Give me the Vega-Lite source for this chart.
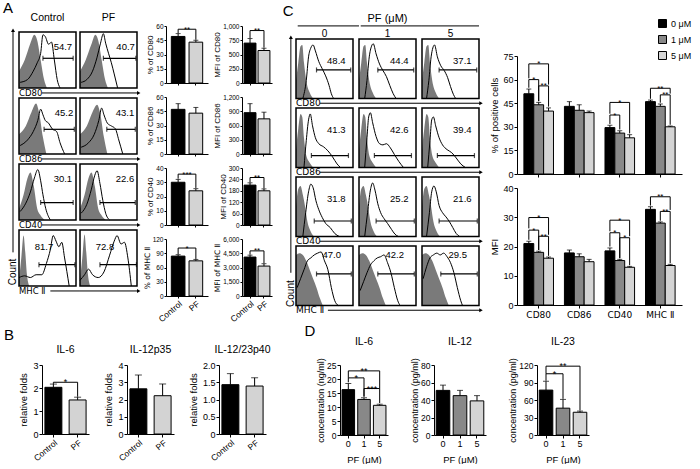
{
"$schema":"https://vega.github.io/schema/vega-lite/v6.json",
"padding":{"left":2,"top":1,"right":0,"bottom":0},
"config":{"font":"Liberation Sans","view":{"stroke":null},
"axis":{"grid":false,"domainColor":"#000","domainWidth":1,"tickColor":"#000","tickWidth":1,"tickSize":3,"labelColor":"#000","labelFontSize":8,"labelPadding":1,"titleColor":"#000","titleFontSize":9,"titleFontWeight":"normal","titlePadding":3},
"title":{"color":"#000","fontWeight":"normal","fontSize":10.5},
"legend":{"labelColor":"#000"},
"text":{"color":"#000"}},
"resolve":{"scale":{"color":"independent"}},
"columns":1,"align":"none","spacing":0,
"concat":[
{"resolve":{"scale":{"color":"independent"}},"spacing":0,"hconcat":[
 {"width":1,"height":1,"data":{"values":[]},"mark":"point"},
 {"resolve":{"scale":{"color":"independent"}},"spacing":10,"hconcat":[
 {"title":{"text":"A","anchor":"start","frame":"bounds","fontSize":15,"offset":-4,"dx":-5},"spacing":2,"hconcat":[
  {"spacing":0,"vconcat":[
   {"width":1,"height":1,"data":{"values":[]},"mark":"point"},
   {"data":{"values":[
{"m":"CD80","c":"Control","k":"i","x":[0,10,20,27,32,38,44,49],"y":[0.3,0.5,0.8,0.95,0.85,0.5,0.15,0]},
{"m":"CD80","c":"Control","k":"p","x":[2,15,25,32,38,42,46,52,57,62,67,72],"y":[0.1,0.15,0.3,0.45,0.62,0.95,0.92,0.78,0.82,0.5,0.15,0]},
{"m":"CD80","c":"PF","k":"i","x":[0,10,20,27,32,38,44,49],"y":[0.3,0.5,0.78,0.95,0.85,0.5,0.15,0]},
{"m":"CD80","c":"PF","k":"p","x":[2,12,22,30,36,41,45,50,55,60,66],"y":[0.1,0.15,0.3,0.55,0.8,0.97,0.8,0.62,0.45,0.25,0]},
{"m":"CD86","c":"Control","k":"i","x":[0,12,22,30,35,42,48],"y":[0.35,0.5,0.75,0.9,0.75,0.3,0]},
{"m":"CD86","c":"Control","k":"p","x":[2,15,25,33,38,42,46,52,58,66,72,80],"y":[0.15,0.25,0.4,0.6,0.8,0.7,0.6,0.55,0.45,0.4,0.2,0]},
{"m":"CD86","c":"PF","k":"i","x":[0,12,22,30,35,42,48],"y":[0.35,0.5,0.75,0.88,0.75,0.3,0]},
{"m":"CD86","c":"PF","k":"p","x":[2,15,25,33,38,42,48,55,62,68,75],"y":[0.12,0.2,0.35,0.6,0.82,0.7,0.55,0.5,0.45,0.25,0]},
{"m":"CD40","c":"Control","k":"i","x":[0,8,15,20,26,32,38,45],"y":[0.2,0.45,0.75,0.85,0.6,0.2,0.08,0]},
{"m":"CD40","c":"Control","k":"p","x":[2,12,20,27,33,38,42,47,55],"y":[0.15,0.3,0.5,0.75,0.9,0.7,0.45,0.2,0]},
{"m":"CD40","c":"PF","k":"i","x":[0,8,15,20,26,32,38,45],"y":[0.2,0.45,0.75,0.85,0.6,0.2,0.08,0]},
{"m":"CD40","c":"PF","k":"p","x":[2,12,20,26,30,35,40,45,52],"y":[0.12,0.28,0.55,0.8,0.88,0.65,0.35,0.12,0]},
{"m":"MHC Ⅱ","c":"Control","k":"i","x":[0,4,8,11,14,18],"y":[0.1,0.5,0.9,0.6,0.2,0]},
{"m":"MHC Ⅱ","c":"Control","k":"p","x":[0,10,20,30,40,48,55,60,65,70,75,80,88],"y":[0.15,0.18,0.15,0.2,0.2,0.4,0.65,0.9,0.8,0.7,0.78,0.5,0]},
{"m":"MHC Ⅱ","c":"PF","k":"i","x":[0,4,8,11,14,18],"y":[0.1,0.5,0.92,0.6,0.2,0]},
{"m":"MHC Ⅱ","c":"PF","k":"p","x":[0,8,15,22,32,42,52,60,65,72,78,84,90],"y":[0.1,0.2,0.3,0.2,0.15,0.25,0.55,0.8,0.9,0.75,0.78,0.5,0]},
{"m":"CD80","c":"Control","k":"g","lo":42,"hi":95,"lvl":0.53,"pct":54.7},
{"m":"CD80","c":"PF","k":"g","lo":41,"hi":98,"lvl":0.53,"pct":40.7},
{"m":"CD86","c":"Control","k":"g","lo":44,"hi":97,"lvl":0.44,"pct":45.2},
{"m":"CD86","c":"PF","k":"g","lo":47,"hi":97,"lvl":0.44,"pct":43.1},
{"m":"CD40","c":"Control","k":"g","lo":38,"hi":95,"lvl":0.31,"pct":30.1},
{"m":"CD40","c":"PF","k":"g","lo":35,"hi":97,"lvl":0.31,"pct":22.6},
{"m":"MHC Ⅱ","c":"Control","k":"g","lo":35,"hi":98,"lvl":0.38,"pct":81.7},
{"m":"MHC Ⅱ","c":"PF","k":"g","lo":35,"hi":99,"lvl":0.38,"pct":72.8}
   ]},
   "facet":{"row":{"field":"m","type":"nominal","sort":["CD80","CD86","CD40","MHC Ⅱ"],"header":{"labels":false,"title":null}},
            "column":{"field":"c","type":"nominal","sort":["Control","PF"],"header":{"labels":false,"title":null}}},
   "bounds":"flush",
   "spacing":{"row":0,"column":4},
   "spec":{"width":57,"height":66,"layer":[
    {"transform":[{"filter":"datum.k==='i'"},{"flatten":["x","y"]}],"mark":{"type":"area","color":"#7a7a7a","interpolate":"monotone"},"encoding":{"x":{"field":"x","type":"quantitative","scale":{"domain":[0,100],"nice":false,"zero":false},"axis":null},"y":{"field":"y","type":"quantitative","scale":{"domain":[-0.18,1],"nice":false,"zero":false},"axis":null},"y2":{"datum":0}}},
    {"transform":[{"filter":"datum.k==='p'"},{"flatten":["x","y"]}],"mark":{"type":"line","color":"#000","strokeWidth":1,"interpolate":"monotone"},"encoding":{"x":{"field":"x","type":"quantitative","axis":null},"y":{"field":"y","type":"quantitative","axis":null}}},
    {"transform":[{"filter":"datum.k==='g'"}],"mark":{"type":"rule","color":"#000","strokeWidth":1.2},"encoding":{"x":{"field":"lo","type":"quantitative","axis":null},"x2":{"field":"hi"},"y":{"field":"lvl","type":"quantitative","axis":null}}},
    {"transform":[{"filter":"datum.k==='g'"},{"fold":["lo","hi"],"as":["gk","gv"]}],"mark":{"type":"tick","orient":"vertical","color":"#000","size":5,"thickness":1.2},"encoding":{"x":{"field":"gv","type":"quantitative","axis":null},"y":{"field":"lvl","type":"quantitative","axis":null}}},
    {"transform":[{"filter":"datum.k==='g' && datum.m!=='MHC Ⅱ'"}],"mark":{"type":"text","align":"right","baseline":"middle","fontSize":9.5,"dx":-1},"encoding":{"x":{"field":"hi","type":"quantitative","axis":null},"y":{"datum":0.73,"axis":null},"text":{"field":"pct","type":"quantitative","format":".1f"}}},
    {"transform":[{"filter":"datum.k==='g' && datum.m==='MHC Ⅱ'"}],"mark":{"type":"text","align":"right","baseline":"middle","fontSize":9.5},"encoding":{"x":{"datum":60,"axis":null},"y":{"datum":0.7,"axis":null},"text":{"field":"pct","type":"quantitative","format":".1f"}}},
    {"transform":[{"filter":"datum.k==='g' && datum.m==='CD80'"}],"mark":{"type":"text","align":"center","baseline":"middle","fontSize":10.5},"encoding":{"x":{"datum":50,"axis":null},"y":{"datum":1.25,"axis":null},"text":{"field":"c","type":"nominal"}}},
    {"transform":[{"filter":"datum.k==='g' && datum.c==='Control'"}],"mark":{"type":"text","align":"left","baseline":"middle","fontSize":8.5,"font":"DejaVu Sans"},"encoding":{"x":{"datum":0,"axis":null},"y":{"datum":-0.09,"axis":null},"text":{"field":"m","type":"nominal"}}},
    {"transform":[{"filter":"datum.k==='g' && datum.c==='Control' && datum.m!=='MHC Ⅱ'"}],"mark":{"type":"rule","color":"#000"},"encoding":{"x":{"datum":40,"axis":null},"x2":{"datum":107},"y":{"datum":-0.09,"axis":null}}},
    {"transform":[{"filter":"datum.k==='g' && datum.c==='Control' && datum.m==='MHC Ⅱ'"}],"mark":{"type":"rule","color":"#000"},"encoding":{"x":{"datum":55,"axis":null},"x2":{"datum":107},"y":{"datum":-0.09,"axis":null}}},
    {"transform":[{"filter":"datum.k==='g' && datum.c==='PF'"}],"mark":{"type":"rule","color":"#000"},"encoding":{"x":{"datum":0,"axis":null},"x2":{"datum":102},"y":{"datum":-0.09,"axis":null}}},
    {"transform":[{"filter":"datum.k==='g' && datum.c==='PF'"}],"mark":{"type":"point","shape":"triangle-right","filled":true,"color":"#000","size":16,"opacity":1},"encoding":{"x":{"datum":103,"axis":null},"y":{"datum":-0.09,"axis":null}}},
    {"transform":[{"filter":"datum.k==='g' && datum.c==='Control' && datum.m!=='MHC Ⅱ'"}],"mark":{"type":"rule","color":"#000"},"encoding":{"x":{"datum":-10.5,"axis":null},"y":{"datum":-0.18,"axis":null},"y2":{"datum":1}}},
    {"transform":[{"filter":"datum.k==='g' && datum.c==='Control' && datum.m==='MHC Ⅱ'"}],"mark":{"type":"rule","color":"#000"},"encoding":{"x":{"datum":-10.5,"axis":null},"y":{"datum":0.6,"axis":null},"y2":{"datum":1}}},
    {"transform":[{"filter":"datum.k==='g' && datum.c==='Control' && datum.m==='CD80'"}],"mark":{"type":"point","shape":"triangle-up","filled":true,"color":"#000","size":16,"opacity":1},"encoding":{"x":{"datum":-10.5,"axis":null},"y":{"datum":1.03,"axis":null}}},
    {"transform":[{"filter":"datum.k==='g' && datum.c==='Control' && datum.m==='MHC Ⅱ'"}],"mark":{"type":"text","angle":270,"align":"center","baseline":"middle","fontSize":10},"encoding":{"x":{"datum":-10.5,"axis":null},"y":{"datum":0.25,"axis":null},"text":{"value":"Count"}}},
    {"transform":[{"filter":"datum.k==='g'"}],"mark":{"type":"rect","fillOpacity":0,"stroke":"#000","strokeWidth":1.5},"encoding":{"x":{"datum":0,"axis":null},"x2":{"datum":100},"y":{"datum":0,"axis":null},"y2":{"datum":1}}}
   ]}}
  ]},
  {"spacing":5,"hconcat":[
   {"spacing":7,"vconcat":[
    {"width":42,"height":3.5,"data":{"values":[]},"mark":"point"},
    {"width":42,"height":57,"encoding":{"x":{"field":"c","type":"nominal","title":null,"scale":{"domain":["Control","PF"],"paddingInner":0.23,"paddingOuter":0.3},"axis":{"labels":false,"tickSize":2}},"y":{"field":"v","type":"quantitative","title":"% of CD80","scale":{"domain":[0,60],"nice":false},"axis":{"values":[0,15,30,45,60],"labelFontSize":6.5,"titleFontSize":8,"tickSize":2,"titlePadding":1}}},
     "layer":[
      {"data":{"values":[{"c":"Control","v":49,"e":52},{"c":"PF","v":43,"e":45}]},"layer":[
       {"mark":{"type":"bar","stroke":"#000","strokeWidth":1},"encoding":{"fill":{"condition":{"test":"datum.c==='Control'","value":"#000"},"value":"#d3d3d3"}}},
       {"mark":{"type":"rule","color":"#000"},"encoding":{"y2":{"field":"e"}}},
       {"mark":{"type":"tick","orient":"horizontal","color":"#000","size":5,"thickness":1},"encoding":{"y":{"field":"e","type":"quantitative","title":"% of CD80"}}}]},
      {"data":{"values":[{"c":"Control","v":52.5,"o":1},{"c":"Control","v":56.6,"o":2},{"c":"PF","v":56.6,"o":3},{"c":"PF","v":45.5,"o":4}]},"mark":{"type":"line","color":"#000","strokeWidth":1},"encoding":{"order":{"field":"o","type":"quantitative"}}},
      {"data":{"values":[{"c":"Control","v":56.6,"s":"**"}]},"mark":{"type":"text","dx":8.9,"dy":2.5,"baseline":"alphabetic","fontSize":8},"encoding":{"text":{"field":"s","type":"nominal"}}}]},
    {"width":42,"height":57,"encoding":{"x":{"field":"c","type":"nominal","title":null,"scale":{"domain":["Control","PF"],"paddingInner":0.23,"paddingOuter":0.3},"axis":{"labels":false,"tickSize":2}},"y":{"field":"v","type":"quantitative","title":"% of CD86","scale":{"domain":[0,60],"nice":false},"axis":{"values":[0,15,30,45,60],"labelFontSize":6.5,"titleFontSize":8,"tickSize":2,"titlePadding":1}}},
     "layer":[
      {"data":{"values":[{"c":"Control","v":47,"e":53},{"c":"PF","v":43,"e":49}]},"layer":[
       {"mark":{"type":"bar","stroke":"#000","strokeWidth":1},"encoding":{"fill":{"condition":{"test":"datum.c==='Control'","value":"#000"},"value":"#d3d3d3"}}},
       {"mark":{"type":"rule","color":"#000"},"encoding":{"y2":{"field":"e"}}},
       {"mark":{"type":"tick","orient":"horizontal","color":"#000","size":5,"thickness":1},"encoding":{"y":{"field":"e","type":"quantitative","title":"% of CD86"}}}]}]},
    {"width":42,"height":57,"encoding":{"x":{"field":"c","type":"nominal","title":null,"scale":{"domain":["Control","PF"],"paddingInner":0.23,"paddingOuter":0.3},"axis":{"labels":false,"tickSize":2}},"y":{"field":"v","type":"quantitative","title":"% of CD40","scale":{"domain":[0,40],"nice":false},"axis":{"values":[0,10,20,30,40],"labelFontSize":6.5,"titleFontSize":8,"tickSize":2,"titlePadding":1}}},
     "layer":[
      {"data":{"values":[{"c":"Control","v":30,"e":32},{"c":"PF","v":24,"e":25.5}]},"layer":[
       {"mark":{"type":"bar","stroke":"#000","strokeWidth":1},"encoding":{"fill":{"condition":{"test":"datum.c==='Control'","value":"#000"},"value":"#d3d3d3"}}},
       {"mark":{"type":"rule","color":"#000"},"encoding":{"y2":{"field":"e"}}},
       {"mark":{"type":"tick","orient":"horizontal","color":"#000","size":5,"thickness":1},"encoding":{"y":{"field":"e","type":"quantitative","title":"% of CD40"}}}]},
      {"data":{"values":[{"c":"Control","v":32.5,"o":1},{"c":"Control","v":35.7,"o":2},{"c":"PF","v":35.7,"o":3},{"c":"PF","v":26,"o":4}]},"mark":{"type":"line","color":"#000","strokeWidth":1},"encoding":{"order":{"field":"o","type":"quantitative"}}},
      {"data":{"values":[{"c":"Control","v":35.7,"s":"***"}]},"mark":{"type":"text","dx":8.9,"dy":2.5,"baseline":"alphabetic","fontSize":8},"encoding":{"text":{"field":"s","type":"nominal"}}}]},
    {"width":42,"height":57,"encoding":{"x":{"field":"c","type":"nominal","title":null,"scale":{"domain":["Control","PF"],"paddingInner":0.23,"paddingOuter":0.3},"axis":{"labelAngle":-40,"labelFontSize":8.5,"tickSize":2}},"y":{"field":"v","type":"quantitative","title":"% of MHC Ⅱ","scale":{"domain":[0,120],"nice":false},"axis":{"values":[0,30,60,90,120],"labelFontSize":6.5,"titleFontSize":7.5,"titleFont":"DejaVu Sans","tickSize":2,"titlePadding":1}}},
     "layer":[
      {"data":{"values":[{"c":"Control","v":84,"e":87},{"c":"PF","v":74,"e":77}]},"layer":[
       {"mark":{"type":"bar","stroke":"#000","strokeWidth":1},"encoding":{"fill":{"condition":{"test":"datum.c==='Control'","value":"#000"},"value":"#d3d3d3"}}},
       {"mark":{"type":"rule","color":"#000"},"encoding":{"y2":{"field":"e"}}},
       {"mark":{"type":"tick","orient":"horizontal","color":"#000","size":5,"thickness":1},"encoding":{"y":{"field":"e","type":"quantitative","title":"% of MHC Ⅱ"}}}]},
      {"data":{"values":[{"c":"Control","v":88,"o":1},{"c":"Control","v":101,"o":2},{"c":"PF","v":101,"o":3},{"c":"PF","v":78,"o":4}]},"mark":{"type":"line","color":"#000","strokeWidth":1},"encoding":{"order":{"field":"o","type":"quantitative"}}},
      {"data":{"values":[{"c":"Control","v":101,"s":"*"}]},"mark":{"type":"text","dx":8.9,"dy":2.5,"baseline":"alphabetic","fontSize":8},"encoding":{"text":{"field":"s","type":"nominal"}}}]}
   ]},
   {"spacing":7,"vconcat":[
    {"width":30,"height":3.5,"data":{"values":[]},"mark":"point"},
    {"width":30,"height":57,"encoding":{"x":{"field":"c","type":"nominal","title":null,"scale":{"domain":["Control","PF"],"paddingInner":0.15,"paddingOuter":0.15},"axis":{"labels":false,"tickSize":2}},"y":{"field":"v","type":"quantitative","title":"MFI of CD80","scale":{"domain":[0,1000],"nice":false},"axis":{"values":[0,250,500,750,1000],"labelFontSize":6.5,"titleFontSize":8,"tickSize":2,"titlePadding":1}}},
     "layer":[
      {"data":{"values":[{"c":"Control","v":700,"e":780},{"c":"PF","v":570,"e":610}]},"layer":[
       {"mark":{"type":"bar","stroke":"#000","strokeWidth":1},"encoding":{"fill":{"condition":{"test":"datum.c==='Control'","value":"#000"},"value":"#d3d3d3"}}},
       {"mark":{"type":"rule","color":"#000"},"encoding":{"y2":{"field":"e"}}},
       {"mark":{"type":"tick","orient":"horizontal","color":"#000","size":5,"thickness":1},"encoding":{"y":{"field":"e","type":"quantitative","title":"MFI of CD80"}}}]},
      {"data":{"values":[{"c":"Control","v":790,"o":1},{"c":"Control","v":920,"o":2},{"c":"PF","v":920,"o":3},{"c":"PF","v":620,"o":4}]},"mark":{"type":"line","color":"#000","strokeWidth":1},"encoding":{"order":{"field":"o","type":"quantitative"}}},
      {"data":{"values":[{"c":"Control","v":920,"s":"**"}]},"mark":{"type":"text","dx":7,"dy":2.5,"baseline":"alphabetic","fontSize":8},"encoding":{"text":{"field":"s","type":"nominal"}}}]},
    {"width":30,"height":57,"encoding":{"x":{"field":"c","type":"nominal","title":null,"scale":{"domain":["Control","PF"],"paddingInner":0.15,"paddingOuter":0.15},"axis":{"labels":false,"tickSize":2}},"y":{"field":"v","type":"quantitative","title":"MFI of CD86","scale":{"domain":[0,1200],"nice":false},"axis":{"values":[0,300,600,900,1200],"labelFontSize":6.5,"titleFontSize":8,"tickSize":2,"titlePadding":1}}},
     "layer":[
      {"data":{"values":[{"c":"Control","v":870,"e":1060},{"c":"PF","v":740,"e":880}]},"layer":[
       {"mark":{"type":"bar","stroke":"#000","strokeWidth":1},"encoding":{"fill":{"condition":{"test":"datum.c==='Control'","value":"#000"},"value":"#d3d3d3"}}},
       {"mark":{"type":"rule","color":"#000"},"encoding":{"y2":{"field":"e"}}},
       {"mark":{"type":"tick","orient":"horizontal","color":"#000","size":5,"thickness":1},"encoding":{"y":{"field":"e","type":"quantitative","title":"MFI of CD86"}}}]}]},
    {"width":30,"height":57,"encoding":{"x":{"field":"c","type":"nominal","title":null,"scale":{"domain":["Control","PF"],"paddingInner":0.15,"paddingOuter":0.15},"axis":{"labels":false,"tickSize":2}},"y":{"field":"v","type":"quantitative","title":"MFI of CD40","scale":{"domain":[0,300],"nice":false},"axis":{"values":[0,60,120,180,240,300],"labelFontSize":6.5,"titleFontSize":8,"tickSize":2,"titlePadding":1}}},
     "layer":[
      {"data":{"values":[{"c":"Control","v":210,"e":222},{"c":"PF","v":180,"e":190}]},"layer":[
       {"mark":{"type":"bar","stroke":"#000","strokeWidth":1},"encoding":{"fill":{"condition":{"test":"datum.c==='Control'","value":"#000"},"value":"#d3d3d3"}}},
       {"mark":{"type":"rule","color":"#000"},"encoding":{"y2":{"field":"e"}}},
       {"mark":{"type":"tick","orient":"horizontal","color":"#000","size":5,"thickness":1},"encoding":{"y":{"field":"e","type":"quantitative","title":"MFI of CD40"}}}]},
      {"data":{"values":[{"c":"Control","v":224,"o":1},{"c":"Control","v":250,"o":2},{"c":"PF","v":250,"o":3},{"c":"PF","v":192,"o":4}]},"mark":{"type":"line","color":"#000","strokeWidth":1},"encoding":{"order":{"field":"o","type":"quantitative"}}},
      {"data":{"values":[{"c":"Control","v":250,"s":"**"}]},"mark":{"type":"text","dx":7,"dy":2.5,"baseline":"alphabetic","fontSize":8},"encoding":{"text":{"field":"s","type":"nominal"}}}]},
    {"width":30,"height":57,"encoding":{"x":{"field":"c","type":"nominal","title":null,"scale":{"domain":["Control","PF"],"paddingInner":0.15,"paddingOuter":0.15},"axis":{"labelAngle":-40,"labelFontSize":8.5,"tickSize":2}},"y":{"field":"v","type":"quantitative","title":"MFI of MHC Ⅱ","scale":{"domain":[0,6000],"nice":false},"axis":{"values":[0,1500,3000,4500,6000],"labelFontSize":6.5,"titleFontSize":7.5,"titleFont":"DejaVu Sans","tickSize":2,"titlePadding":1}}},
     "layer":[
      {"data":{"values":[{"c":"Control","v":4100,"e":4300},{"c":"PF","v":3150,"e":3400}]},"layer":[
       {"mark":{"type":"bar","stroke":"#000","strokeWidth":1},"encoding":{"fill":{"condition":{"test":"datum.c==='Control'","value":"#000"},"value":"#d3d3d3"}}},
       {"mark":{"type":"rule","color":"#000"},"encoding":{"y2":{"field":"e"}}},
       {"mark":{"type":"tick","orient":"horizontal","color":"#000","size":5,"thickness":1},"encoding":{"y":{"field":"e","type":"quantitative","title":"MFI of MHC Ⅱ"}}}]},
      {"data":{"values":[{"c":"Control","v":4350,"o":1},{"c":"Control","v":4750,"o":2},{"c":"PF","v":4750,"o":3},{"c":"PF","v":3450,"o":4}]},"mark":{"type":"line","color":"#000","strokeWidth":1},"encoding":{"order":{"field":"o","type":"quantitative"}}},
      {"data":{"values":[{"c":"Control","v":4750,"s":"**"}]},"mark":{"type":"text","dx":7,"dy":2.5,"baseline":"alphabetic","fontSize":8},"encoding":{"text":{"field":"s","type":"nominal"}}}]}
   ]}
  ]}
 ]},
 {"title":{"text":"C","anchor":"start","frame":"bounds","fontSize":15,"offset":-7,"dx":-3},"resolve":{"scale":{"color":"independent"}},"spacing":6,"hconcat":[
  {"spacing":0,"vconcat":[
   {"width":1,"height":1,"data":{"values":[]},"mark":"point"},
   {"data":{"values":[
{"m":"CD80","c":"0","k":"i","x":[0,4,8,11,14,18,24,30],"y":[0.3,0.6,0.88,0.9,0.6,0.3,0.1,0]},
{"m":"CD80","c":"1","k":"i","x":[0,4,8,11,14,18,24,30],"y":[0.3,0.6,0.88,0.9,0.6,0.3,0.1,0]},
{"m":"CD80","c":"5","k":"i","x":[0,4,8,11,14,18,24,30],"y":[0.3,0.6,0.88,0.9,0.6,0.3,0.1,0]},
{"m":"CD80","c":"0","k":"p","x":[12,18,22,26,30,34,40,46,52,58,62,66],"y":[0,0.3,0.7,0.85,0.9,0.8,0.62,0.5,0.38,0.22,0.08,0]},
{"m":"CD80","c":"1","k":"p","x":[10,14,18,22,25,30,36,42,48,54,60,65],"y":[0,0.3,0.7,0.88,0.92,0.75,0.58,0.47,0.37,0.22,0.08,0]},
{"m":"CD80","c":"5","k":"p","x":[8,12,16,19,22,27,33,39,45,50,55,59],"y":[0,0.3,0.7,0.85,0.9,0.7,0.55,0.47,0.35,0.2,0.07,0]},
{"m":"CD86","c":"0","k":"i","x":[0,4,8,11,14,18,24,30],"y":[0.3,0.65,0.9,0.85,0.5,0.2,0.08,0]},
{"m":"CD86","c":"1","k":"i","x":[0,4,8,11,14,18,24,30],"y":[0.3,0.65,0.9,0.85,0.5,0.2,0.08,0]},
{"m":"CD86","c":"5","k":"i","x":[0,4,8,11,14,18,24,30],"y":[0.3,0.65,0.9,0.85,0.5,0.2,0.08,0]},
{"m":"CD86","c":"0","k":"p","x":[14,18,22,25,29,34,40,48,56,64,72,78],"y":[0,0.45,0.8,0.9,0.7,0.5,0.4,0.35,0.28,0.18,0.06,0]},
{"m":"CD86","c":"1","k":"p","x":[10,14,17,20,24,30,36,42,48,55,62,70,78],"y":[0,0.5,0.85,0.92,0.75,0.52,0.4,0.38,0.4,0.33,0.22,0.1,0]},
{"m":"CD86","c":"5","k":"p","x":[10,14,17,20,24,30,36,44,52,60,68,76],"y":[0,0.45,0.8,0.85,0.7,0.5,0.38,0.3,0.25,0.16,0.06,0]},
{"m":"CD40","c":"0","k":"i","x":[0,4,8,12,16,20,26,32],"y":[0.5,0.8,0.85,0.7,0.5,0.25,0.08,0]},
{"m":"CD40","c":"1","k":"i","x":[0,4,8,12,16,20,26,32],"y":[0.5,0.8,0.85,0.7,0.5,0.25,0.08,0]},
{"m":"CD40","c":"5","k":"i","x":[0,4,8,12,16,20,26,32],"y":[0.5,0.8,0.85,0.7,0.5,0.25,0.08,0]},
{"m":"CD40","c":"0","k":"p","x":[12,17,22,26,30,35,40,46,52,60,68,76],"y":[0,0.4,0.75,0.88,0.82,0.6,0.45,0.32,0.22,0.15,0.05,0]},
{"m":"CD40","c":"1","k":"p","x":[10,15,20,24,28,33,38,44,50,57,63,69],"y":[0,0.4,0.78,0.9,0.78,0.55,0.4,0.3,0.22,0.12,0.04,0]},
{"m":"CD40","c":"5","k":"p","x":[8,13,17,21,25,30,36,42,48,54,60,66],"y":[0,0.4,0.75,0.85,0.75,0.52,0.4,0.33,0.25,0.15,0.05,0]},
{"m":"MHC Ⅱ","c":"0","k":"i","x":[0,6,12,18,24,30,36,42,47],"y":[0.85,0.88,0.85,0.75,0.6,0.45,0.3,0.12,0]},
{"m":"MHC Ⅱ","c":"1","k":"i","x":[0,6,12,18,24,30,36,42,47],"y":[0.85,0.88,0.85,0.75,0.6,0.45,0.3,0.12,0]},
{"m":"MHC Ⅱ","c":"5","k":"i","x":[0,6,12,18,24,30,36,42,47],"y":[0.85,0.88,0.85,0.75,0.6,0.45,0.3,0.12,0]},
{"m":"MHC Ⅱ","c":"0","k":"p","x":[2,8,14,20,26,32,38,44,50,56,62,68,74],"y":[0.3,0.45,0.6,0.75,0.8,0.85,0.88,0.9,0.75,0.6,0.3,0.08,0]},
{"m":"MHC Ⅱ","c":"1","k":"p","x":[2,8,14,20,26,32,38,44,50,56,62,68,72],"y":[0.25,0.4,0.55,0.68,0.75,0.8,0.82,0.85,0.72,0.55,0.3,0.08,0]},
{"m":"MHC Ⅱ","c":"5","k":"p","x":[2,8,14,20,26,32,38,44,50,56,62,68,71],"y":[0.45,0.65,0.8,0.85,0.88,0.85,0.88,0.82,0.72,0.55,0.3,0.08,0]},
{"m":"CD80","c":"0","k":"g","lo":36,"hi":96,"lvl":0.48,"pct":48.4},
{"m":"CD80","c":"1","k":"g","lo":33,"hi":96,"lvl":0.48,"pct":44.4},
{"m":"CD80","c":"5","k":"g","lo":30,"hi":96,"lvl":0.48,"pct":37.1},
{"m":"CD86","c":"0","k":"g","lo":27,"hi":92,"lvl":0.2,"pct":41.3},
{"m":"CD86","c":"1","k":"g","lo":27,"hi":92,"lvl":0.2,"pct":42.6},
{"m":"CD86","c":"5","k":"g","lo":27,"hi":92,"lvl":0.2,"pct":39.4},
{"m":"CD40","c":"0","k":"g","lo":32,"hi":97,"lvl":0.26,"pct":31.8},
{"m":"CD40","c":"1","k":"g","lo":30,"hi":97,"lvl":0.26,"pct":25.2},
{"m":"CD40","c":"5","k":"g","lo":30,"hi":97,"lvl":0.26,"pct":21.6},
{"m":"MHC Ⅱ","c":"0","k":"g","lo":36,"hi":97,"lvl":0.53,"pct":47.0},
{"m":"MHC Ⅱ","c":"1","k":"g","lo":33,"hi":97,"lvl":0.53,"pct":42.2},
{"m":"MHC Ⅱ","c":"5","k":"g","lo":33,"hi":97,"lvl":0.53,"pct":29.5}
   ]},
   "facet":{"row":{"field":"m","type":"nominal","sort":["CD80","CD86","CD40","MHC Ⅱ"],"header":{"labels":false,"title":null}},
            "column":{"field":"c","type":"nominal","sort":["0","1","5"],"header":{"labels":false,"title":null}}},
   "bounds":"flush",
   "spacing":{"row":0,"column":6},
   "spec":{"width":57,"height":69,"layer":[
    {"transform":[{"filter":"datum.k==='i'"},{"flatten":["x","y"]}],"mark":{"type":"area","color":"#7a7a7a","interpolate":"monotone"},"encoding":{"x":{"field":"x","type":"quantitative","scale":{"domain":[0,100],"nice":false,"zero":false},"axis":null},"y":{"field":"y","type":"quantitative","scale":{"domain":[-0.16,1],"nice":false,"zero":false},"axis":null},"y2":{"datum":0}}},
    {"transform":[{"filter":"datum.k==='p'"},{"flatten":["x","y"]}],"mark":{"type":"line","color":"#000","strokeWidth":1,"interpolate":"monotone"},"encoding":{"x":{"field":"x","type":"quantitative","axis":null},"y":{"field":"y","type":"quantitative","axis":null}}},
    {"transform":[{"filter":"datum.k==='g'"}],"mark":{"type":"rule","color":"#000","strokeWidth":1.2},"encoding":{"x":{"field":"lo","type":"quantitative","axis":null},"x2":{"field":"hi"},"y":{"field":"lvl","type":"quantitative","axis":null}}},
    {"transform":[{"filter":"datum.k==='g'"},{"fold":["lo","hi"],"as":["gk","gv"]}],"mark":{"type":"tick","orient":"vertical","color":"#000","size":5,"thickness":1.2},"encoding":{"x":{"field":"gv","type":"quantitative","axis":null},"y":{"field":"lvl","type":"quantitative","axis":null}}},
    {"transform":[{"filter":"datum.k==='g' && datum.m!=='MHC Ⅱ'"}],"mark":{"type":"text","align":"right","baseline":"middle","fontSize":9.5},"encoding":{"x":{"datum":87,"axis":null},"y":{"datum":0.63,"axis":null},"text":{"field":"pct","type":"quantitative","format":".1f"}}},
    {"transform":[{"filter":"datum.k==='g' && datum.m==='MHC Ⅱ'"}],"mark":{"type":"text","align":"right","baseline":"middle","fontSize":9.5},"encoding":{"x":{"datum":79,"axis":null},"y":{"datum":0.85,"axis":null},"text":{"field":"pct","type":"quantitative","format":".1f"}}},
    {"transform":[{"filter":"datum.k==='g' && datum.m==='CD80'"}],"mark":{"type":"text","align":"center","baseline":"middle","fontSize":10},"encoding":{"x":{"datum":50,"axis":null},"y":{"datum":1.085,"axis":null},"text":{"field":"c","type":"nominal"}}},
    {"transform":[{"filter":"datum.k==='g' && datum.m==='CD80' && datum.c==='1'"}],"mark":{"type":"text","align":"center","baseline":"middle","fontSize":11},"encoding":{"x":{"datum":50,"axis":null},"y":{"datum":1.336,"axis":null},"text":{"value":"PF (μM)"}}},
    {"transform":[{"filter":"datum.k==='g' && datum.c==='0'"}],"mark":{"type":"text","align":"left","baseline":"middle","fontSize":9,"font":"DejaVu Sans"},"encoding":{"x":{"datum":0,"axis":null},"y":{"datum":-0.08,"axis":null},"text":{"field":"m","type":"nominal"}}},
    {"transform":[{"filter":"datum.k==='g' && datum.c==='0' && datum.m!=='MHC Ⅱ'"}],"mark":{"type":"rule","color":"#000"},"encoding":{"x":{"datum":42,"axis":null},"x2":{"datum":110.5},"y":{"datum":-0.08,"axis":null}}},
    {"transform":[{"filter":"datum.k==='g' && datum.c==='0' && datum.m==='MHC Ⅱ'"}],"mark":{"type":"rule","color":"#000"},"encoding":{"x":{"datum":56,"axis":null},"x2":{"datum":110.5},"y":{"datum":-0.08,"axis":null}}},
    {"transform":[{"filter":"datum.k==='g' && datum.c==='1'"}],"mark":{"type":"rule","color":"#000"},"encoding":{"x":{"datum":0,"axis":null},"x2":{"datum":110.5},"y":{"datum":-0.08,"axis":null}}},
    {"transform":[{"filter":"datum.k==='g' && datum.c==='5'"}],"mark":{"type":"rule","color":"#000"},"encoding":{"x":{"datum":0,"axis":null},"x2":{"datum":102},"y":{"datum":-0.08,"axis":null}}},
    {"transform":[{"filter":"datum.k==='g' && datum.c==='5'"}],"mark":{"type":"point","shape":"triangle-right","filled":true,"color":"#000","size":16,"opacity":1},"encoding":{"x":{"datum":103.5,"axis":null},"y":{"datum":-0.08,"axis":null}}},
    {"transform":[{"filter":"datum.k==='g' && datum.c==='0' && datum.m!=='MHC Ⅱ'"}],"mark":{"type":"rule","color":"#000"},"encoding":{"x":{"datum":-9,"axis":null},"y":{"datum":-0.16,"axis":null},"y2":{"datum":1}}},
    {"transform":[{"filter":"datum.k==='g' && datum.c==='0' && datum.m==='MHC Ⅱ'"}],"mark":{"type":"rule","color":"#000"},"encoding":{"x":{"datum":-9,"axis":null},"y":{"datum":0.55,"axis":null},"y2":{"datum":1}}},
    {"transform":[{"filter":"datum.k==='g' && datum.c==='0' && datum.m==='CD80'"}],"mark":{"type":"point","shape":"triangle-up","filled":true,"color":"#000","size":16,"opacity":1},"encoding":{"x":{"datum":-9,"axis":null},"y":{"datum":1.03,"axis":null}}},
    {"transform":[{"filter":"datum.k==='g' && datum.c==='0' && datum.m==='MHC Ⅱ'"}],"mark":{"type":"text","angle":270,"align":"center","baseline":"middle","fontSize":10},"encoding":{"x":{"datum":-9,"axis":null},"y":{"datum":0.2,"axis":null},"text":{"value":"Count"}}},
    {"transform":[{"filter":"datum.k==='g' && datum.m==='CD80' && datum.c!=='5'"}],"mark":{"type":"rule","color":"#000"},"encoding":{"x":{"datum":3,"axis":null},"x2":{"datum":110.5},"y":{"datum":1.22,"axis":null}}},
    {"transform":[{"filter":"datum.k==='g' && datum.m==='CD80' && datum.c==='5'"}],"mark":{"type":"rule","color":"#000"},"encoding":{"x":{"datum":0,"axis":null},"x2":{"datum":100},"y":{"datum":1.22,"axis":null}}},
    {"transform":[{"filter":"datum.k==='g'"}],"mark":{"type":"rect","fillOpacity":0,"stroke":"#000","strokeWidth":1.5},"encoding":{"x":{"datum":0,"axis":null},"x2":{"datum":100},"y":{"datum":0,"axis":null},"y2":{"datum":1}}}
   ]}}
  ]},
  {"resolve":{"scale":{"color":"independent"}},"spacing":6,"vconcat":[
   {"width":1,"height":1,"data":{"values":[]},"mark":"point"},
   {"resolve":{"scale":{"color":"independent"}},"spacing":5,"vconcat":[
   {"width":165,"height":118,
    "encoding":{"x":{"field":"g","type":"nominal","title":null,"scale":{"domain":["CD80","CD86","CD40","MHC Ⅱ"],"paddingInner":0.27,"paddingOuter":0.17},"axis":{"labels":false}},
     "xOffset":{"field":"d","type":"nominal","scale":{"domain":["0 μM","1 μM","5 μM"],"paddingInner":0,"paddingOuter":0}},
     "y":{"field":"v","type":"quantitative","title":"% of positive cells","scale":{"domain":[0,75],"nice":false},"axis":{"values":[0,15,30,45,60,75],"labelFontSize":9,"titleFontSize":9.5}}},
    "layer":[
     {"data":{"values":[
{"g":"CD80","d":"0 μM","v":51,"e":54},{"g":"CD80","d":"1 μM","v":44,"e":45.5},{"g":"CD80","d":"5 μM","v":40,"e":42},
{"g":"CD86","d":"0 μM","v":43,"e":46},{"g":"CD86","d":"1 μM","v":40.5,"e":44},{"g":"CD86","d":"5 μM","v":39,"e":40},
{"g":"CD40","d":"0 μM","v":29.5,"e":31},{"g":"CD40","d":"1 μM","v":26,"e":27.5},{"g":"CD40","d":"5 μM","v":23,"e":25},
{"g":"MHC Ⅱ","d":"0 μM","v":46,"e":47},{"g":"MHC Ⅱ","d":"1 μM","v":43,"e":44.5},{"g":"MHC Ⅱ","d":"5 μM","v":30,"e":30.5}]},
      "layer":[
       {"mark":{"type":"bar","stroke":"#000","strokeWidth":1},"encoding":{"color":{"field":"d","type":"nominal","scale":{"domain":["0 μM","1 μM","5 μM"],"range":["#000000","#888888","#d4d4d4"]},"legend":{"orient":"none","legendX":141,"legendY":-37,"title":null,"symbolType":"square","symbolSize":64,"symbolStrokeColor":"#000","symbolStrokeWidth":1,"symbolOpacity":1,"labelFontSize":9,"rowPadding":3}}}},
       {"mark":{"type":"rule","color":"#000"},"encoding":{"y2":{"field":"e"}}},
       {"mark":{"type":"tick","orient":"horizontal","color":"#000","size":5,"thickness":1},"encoding":{"y":{"field":"e","type":"quantitative","title":"% of positive cells"}}}]},
     {"data":{"values":[
{"g":"CD80","d":"0 μM","v":54.8,"b":1,"o":1},{"g":"CD80","d":"0 μM","v":60,"b":1,"o":2},{"g":"CD80","d":"1 μM","v":60,"b":1,"o":3},{"g":"CD80","d":"1 μM","v":46.3,"b":1,"o":4},
{"g":"CD80","d":"1 μM","v":46.3,"b":2,"o":1},{"g":"CD80","d":"1 μM","v":56,"b":2,"o":2},{"g":"CD80","d":"5 μM","v":56,"b":2,"o":3},{"g":"CD80","d":"5 μM","v":42.8,"b":2,"o":4},
{"g":"CD80","d":"0 μM","v":60.8,"b":3,"o":1},{"g":"CD80","d":"0 μM","v":70,"b":3,"o":2},{"g":"CD80","d":"5 μM","v":70,"b":3,"o":3},{"g":"CD80","d":"5 μM","v":56.8,"b":3,"o":4},
{"g":"CD40","d":"0 μM","v":31.8,"b":4,"o":1},{"g":"CD40","d":"0 μM","v":37.5,"b":4,"o":2},{"g":"CD40","d":"1 μM","v":37.5,"b":4,"o":3},{"g":"CD40","d":"1 μM","v":28.3,"b":4,"o":4},
{"g":"CD40","d":"0 μM","v":38.3,"b":5,"o":1},{"g":"CD40","d":"0 μM","v":45.5,"b":5,"o":2},{"g":"CD40","d":"5 μM","v":45.5,"b":5,"o":3},{"g":"CD40","d":"5 μM","v":25.8,"b":5,"o":4},
{"g":"MHC Ⅱ","d":"1 μM","v":45.3,"b":6,"o":1},{"g":"MHC Ⅱ","d":"1 μM","v":50.3,"b":6,"o":2},{"g":"MHC Ⅱ","d":"5 μM","v":50.3,"b":6,"o":3},{"g":"MHC Ⅱ","d":"5 μM","v":31.3,"b":6,"o":4},
{"g":"MHC Ⅱ","d":"0 μM","v":47.8,"b":7,"o":1},{"g":"MHC Ⅱ","d":"0 μM","v":54.5,"b":7,"o":2},{"g":"MHC Ⅱ","d":"5 μM","v":54.5,"b":7,"o":3},{"g":"MHC Ⅱ","d":"5 μM","v":51.1,"b":7,"o":4}]},
      "mark":{"type":"line","color":"#000","strokeWidth":1},"encoding":{"detail":{"field":"b","type":"nominal"},"order":{"field":"o","type":"quantitative"}}},
     {"data":{"values":[
{"g":"CD80","d":"0 μM","v":60,"s":"*","t":"a"},{"g":"CD80","d":"1 μM","v":56,"s":"**","t":"a"},{"g":"CD80","d":"1 μM","v":70,"s":"*","t":"w"},
{"g":"CD40","d":"0 μM","v":37.5,"s":"*","t":"a"},{"g":"CD40","d":"1 μM","v":45.5,"s":"*","t":"w"},
{"g":"MHC Ⅱ","d":"1 μM","v":50.3,"s":"**","t":"a"},{"g":"MHC Ⅱ","d":"1 μM","v":54.5,"s":"**","t":"w"}]},
      "layer":[
       {"transform":[{"filter":"datum.t==='a'"}],"mark":{"type":"text","dx":5,"dy":2.5,"baseline":"alphabetic","fontSize":8},"encoding":{"text":{"field":"s","type":"nominal"}}},
       {"transform":[{"filter":"datum.t==='w'"}],"mark":{"type":"text","dy":2.5,"baseline":"alphabetic","fontSize":8},"encoding":{"text":{"field":"s","type":"nominal"}}}]}
    ]},
   {"width":165,"height":117,
    "encoding":{"x":{"field":"g","type":"nominal","title":null,"scale":{"domain":["CD80","CD86","CD40","MHC Ⅱ"],"paddingInner":0.27,"paddingOuter":0.17},"axis":{"labelAngle":0,"labelFontSize":9,"labelFont":"DejaVu Sans","labelPadding":2}},
     "xOffset":{"field":"d","type":"nominal","scale":{"domain":["0 μM","1 μM","5 μM"],"paddingInner":0,"paddingOuter":0}},
     "y":{"field":"v","type":"quantitative","title":"MFI","scale":{"domain":[0,40],"nice":false},"axis":{"values":[0,10,20,30,40],"labelFontSize":9,"titleFontSize":9.5}}},
    "layer":[
     {"data":{"values":[
{"g":"CD80","d":"0 μM","v":21,"e":21.8},{"g":"CD80","d":"1 μM","v":18,"e":18.4},{"g":"CD80","d":"5 μM","v":16,"e":16.4},
{"g":"CD86","d":"0 μM","v":17.8,"e":18.8},{"g":"CD86","d":"1 μM","v":16.5,"e":17.5},{"g":"CD86","d":"5 μM","v":14.8,"e":15.6},
{"g":"CD40","d":"0 μM","v":18.5,"e":19.5},{"g":"CD40","d":"1 μM","v":15.2,"e":15.6},{"g":"CD40","d":"5 μM","v":12.9,"e":13.2},
{"g":"MHC Ⅱ","d":"0 μM","v":32.7,"e":33.6},{"g":"MHC Ⅱ","d":"1 μM","v":28,"e":28.4},{"g":"MHC Ⅱ","d":"5 μM","v":13.5,"e":13.9}]},
      "layer":[
       {"mark":{"type":"bar","stroke":"#000","strokeWidth":1},"encoding":{"fill":{"condition":[{"test":"datum.d==='0 μM'","value":"#000000"},{"test":"datum.d==='1 μM'","value":"#888888"}],"value":"#d4d4d4"}}},
       {"mark":{"type":"rule","color":"#000"},"encoding":{"y2":{"field":"e"}}},
       {"mark":{"type":"tick","orient":"horizontal","color":"#000","size":5,"thickness":1},"encoding":{"y":{"field":"e","type":"quantitative","title":"MFI"}}}]},
     {"data":{"values":[
{"g":"CD80","d":"0 μM","v":22.3,"b":1,"o":1},{"g":"CD80","d":"0 μM","v":25.6,"b":1,"o":2},{"g":"CD80","d":"1 μM","v":25.6,"b":1,"o":3},{"g":"CD80","d":"1 μM","v":18.8,"b":1,"o":4},
{"g":"CD80","d":"1 μM","v":18.8,"b":2,"o":1},{"g":"CD80","d":"1 μM","v":23.5,"b":2,"o":2},{"g":"CD80","d":"5 μM","v":23.5,"b":2,"o":3},{"g":"CD80","d":"5 μM","v":16.8,"b":2,"o":4},
{"g":"CD80","d":"0 μM","v":26.2,"b":3,"o":1},{"g":"CD80","d":"0 μM","v":29.9,"b":3,"o":2},{"g":"CD80","d":"5 μM","v":29.9,"b":3,"o":3},{"g":"CD80","d":"5 μM","v":24,"b":3,"o":4},
{"g":"CD40","d":"0 μM","v":20,"b":4,"o":1},{"g":"CD40","d":"0 μM","v":24.7,"b":4,"o":2},{"g":"CD40","d":"1 μM","v":24.7,"b":4,"o":3},{"g":"CD40","d":"1 μM","v":16,"b":4,"o":4},
{"g":"CD40","d":"1 μM","v":16,"b":5,"o":1},{"g":"CD40","d":"1 μM","v":23,"b":5,"o":2},{"g":"CD40","d":"5 μM","v":23,"b":5,"o":3},{"g":"CD40","d":"5 μM","v":13.6,"b":5,"o":4},
{"g":"CD40","d":"0 μM","v":25.2,"b":6,"o":1},{"g":"CD40","d":"0 μM","v":29,"b":6,"o":2},{"g":"CD40","d":"5 μM","v":29,"b":6,"o":3},{"g":"CD40","d":"5 μM","v":23.5,"b":6,"o":4},
{"g":"MHC Ⅱ","d":"1 μM","v":28.8,"b":7,"o":1},{"g":"MHC Ⅱ","d":"1 μM","v":32,"b":7,"o":2},{"g":"MHC Ⅱ","d":"5 μM","v":32,"b":7,"o":3},{"g":"MHC Ⅱ","d":"5 μM","v":14.3,"b":7,"o":4},
{"g":"MHC Ⅱ","d":"0 μM","v":34,"b":8,"o":1},{"g":"MHC Ⅱ","d":"0 μM","v":37,"b":8,"o":2},{"g":"MHC Ⅱ","d":"5 μM","v":37,"b":8,"o":3},{"g":"MHC Ⅱ","d":"5 μM","v":32.5,"b":8,"o":4}]},
      "mark":{"type":"line","color":"#000","strokeWidth":1},"encoding":{"detail":{"field":"b","type":"nominal"},"order":{"field":"o","type":"quantitative"}}},
     {"data":{"values":[
{"g":"CD80","d":"0 μM","v":25.6,"s":"*","t":"a"},{"g":"CD80","d":"1 μM","v":23.5,"s":"**","t":"a"},{"g":"CD80","d":"1 μM","v":29.9,"s":"*","t":"w"},
{"g":"CD40","d":"0 μM","v":24.7,"s":"*","t":"a"},{"g":"CD40","d":"1 μM","v":23,"s":"*","t":"a"},{"g":"CD40","d":"1 μM","v":29,"s":"*","t":"w"},
{"g":"MHC Ⅱ","d":"1 μM","v":32,"s":"**","t":"a"},{"g":"MHC Ⅱ","d":"1 μM","v":37,"s":"**","t":"w"}]},
      "layer":[
       {"transform":[{"filter":"datum.t==='a'"}],"mark":{"type":"text","dx":5,"dy":2.5,"baseline":"alphabetic","fontSize":8},"encoding":{"text":{"field":"s","type":"nominal"}}},
       {"transform":[{"filter":"datum.t==='w'"}],"mark":{"type":"text","dy":2.5,"baseline":"alphabetic","fontSize":8},"encoding":{"text":{"field":"s","type":"nominal"}}}]}
    ]}
   ]}
  ]}
 ]}
 ]}
]},
{"spacing":0,"hconcat":[
 {"width":1,"height":1,"data":{"values":[]},"mark":"point"},
 {"spacing":33,"hconcat":[
 {"title":{"text":"B","anchor":"start","frame":"bounds","fontSize":15,"offset":2,"dx":-15},"spacing":14,"hconcat":[
  {"title":{"text":"IL-6","offset":6},"width":47,"height":69,
   "encoding":{"x":{"field":"c","type":"nominal","title":null,"scale":{"domain":["Control","PF"],"paddingInner":0.3,"paddingOuter":0.12},"axis":{"labelAngle":-40,"labelFontSize":8.5}},"y":{"field":"v","type":"quantitative","title":"relative folds","scale":{"domain":[0,3],"nice":false},"axis":{"values":[0,1,2,3],"labelFontSize":9,"titleFontSize":9.5,"titlePadding":4}}},
   "layer":[
    {"data":{"values":[{"c":"Control","v":2.03,"e":2.17},{"c":"PF","v":1.48,"e":1.6}]},"layer":[
     {"mark":{"type":"bar","stroke":"#000","strokeWidth":1},"encoding":{"fill":{"condition":{"test":"datum.c==='Control'","value":"#000"},"value":"#d3d3d3"}}},
     {"mark":{"type":"rule","color":"#000"},"encoding":{"y2":{"field":"e"}}},
     {"mark":{"type":"tick","orient":"horizontal","color":"#000","size":7,"thickness":1},"encoding":{"y":{"field":"e","type":"quantitative","title":"relative folds"}}}]},
    {"data":{"values":[{"c":"Control","v":2.18,"o":1},{"c":"Control","v":2.25,"o":2},{"c":"PF","v":2.25,"o":3},{"c":"PF","v":1.62,"o":4}]},"mark":{"type":"line","color":"#000","strokeWidth":1},"encoding":{"order":{"field":"o","type":"quantitative"}}},
    {"data":{"values":[{"c":"Control","v":2.25,"s":"*"}]},"mark":{"type":"text","dx":12.1,"dy":3,"baseline":"alphabetic","fontSize":9},"encoding":{"text":{"field":"s","type":"nominal"}}}]},
  {"title":{"text":"IL-12p35","offset":6},"width":47,"height":69,
   "encoding":{"x":{"field":"c","type":"nominal","title":null,"scale":{"domain":["Control","PF"],"paddingInner":0.3,"paddingOuter":0.12},"axis":{"labelAngle":-40,"labelFontSize":8.5}},"y":{"field":"v","type":"quantitative","title":"relative folds","scale":{"domain":[0,4],"nice":false},"axis":{"values":[0,1,2,3,4],"labelFontSize":9,"titleFontSize":9.5,"titlePadding":4}}},
   "layer":[
    {"data":{"values":[{"c":"Control","v":2.62,"e":3.42},{"c":"PF","v":2.22,"e":2.9}]},"layer":[
     {"mark":{"type":"bar","stroke":"#000","strokeWidth":1},"encoding":{"fill":{"condition":{"test":"datum.c==='Control'","value":"#000"},"value":"#d3d3d3"}}},
     {"mark":{"type":"rule","color":"#000"},"encoding":{"y2":{"field":"e"}}},
     {"mark":{"type":"tick","orient":"horizontal","color":"#000","size":7,"thickness":1},"encoding":{"y":{"field":"e","type":"quantitative","title":"relative folds"}}}]}]},
  {"title":{"text":"IL-12/23p40","offset":6},"width":47,"height":69,
   "encoding":{"x":{"field":"c","type":"nominal","title":null,"scale":{"domain":["Control","PF"],"paddingInner":0.3,"paddingOuter":0.12},"axis":{"labelAngle":-40,"labelFontSize":8.5}},"y":{"field":"v","type":"quantitative","title":"relative folds","scale":{"domain":[0,2],"nice":false},"axis":{"values":[0,0.5,1,1.5,2],"labelExpr":"datum.value===0 ? '0' : format(datum.value,'.1f')","labelFontSize":9,"titleFontSize":9.5,"titlePadding":4}}},
   "layer":[
    {"data":{"values":[{"c":"Control","v":1.43,"e":1.75},{"c":"PF","v":1.39,"e":1.63}]},"layer":[
     {"mark":{"type":"bar","stroke":"#000","strokeWidth":1},"encoding":{"fill":{"condition":{"test":"datum.c==='Control'","value":"#000"},"value":"#d3d3d3"}}},
     {"mark":{"type":"rule","color":"#000"},"encoding":{"y2":{"field":"e"}}},
     {"mark":{"type":"tick","orient":"horizontal","color":"#000","size":7,"thickness":1},"encoding":{"y":{"field":"e","type":"quantitative","title":"relative folds"}}}]}]}
 ]},
 {"title":{"text":"D","anchor":"start","frame":"bounds","fontSize":15,"offset":-2,"dx":-12},"spacing":22,"hconcat":[
  {"title":{"text":"IL-6","offset":10},"width":48,"height":70,
   "encoding":{"x":{"field":"d","type":"nominal","title":"PF (μM)","scale":{"domain":["0","1","5"],"paddingInner":0.2,"paddingOuter":0.13},"axis":{"labelAngle":0,"labelFontSize":9,"titleFontSize":9.5,"titlePadding":6}},"y":{"field":"v","type":"quantitative","title":"concentration (ng/ml)","scale":{"domain":[0,25],"nice":false},"axis":{"values":[0,5,10,15,20,25],"labelFontSize":8.5,"titleFontSize":9,"titlePadding":1}}},
   "layer":[
    {"data":{"values":[{"d":"0","v":16.2,"e":18.4},{"d":"1","v":12.7,"e":13.3},{"d":"5","v":10.6,"e":11}]},"layer":[
     {"mark":{"type":"bar","stroke":"#000","strokeWidth":1},"encoding":{"fill":{"condition":[{"test":"datum.d==='0'","value":"#000000"},{"test":"datum.d==='1'","value":"#888888"}],"value":"#d4d4d4"}}},
     {"mark":{"type":"rule","color":"#000"},"encoding":{"y2":{"field":"e"}}},
     {"mark":{"type":"tick","orient":"horizontal","color":"#000","size":6,"thickness":1},"encoding":{"y":{"field":"e","type":"quantitative","title":"concentration (ng/ml)"}}}]},
    {"data":{"values":[
{"d":"0","v":18.8,"b":1,"o":1},{"d":"0","v":20.4,"b":1,"o":2},{"d":"1","v":20.4,"b":1,"o":3},{"d":"1","v":13.7,"b":1,"o":4},
{"d":"1","v":13.7,"b":2,"o":1},{"d":"1","v":16.6,"b":2,"o":2},{"d":"5","v":16.6,"b":2,"o":3},{"d":"5","v":11.4,"b":2,"o":4},
{"d":"0","v":20.4,"b":3,"o":1},{"d":"0","v":22.9,"b":3,"o":2},{"d":"5","v":22.9,"b":3,"o":3},{"d":"5","v":16.6,"b":3,"o":4}]},
     "mark":{"type":"line","color":"#000","strokeWidth":1},"encoding":{"detail":{"field":"b","type":"nominal"},"order":{"field":"o","type":"quantitative"}}},
    {"data":{"values":[{"d":"0","v":20.4,"s":"*","t":"a"},{"d":"1","v":16.6,"s":"***","t":"a"},{"d":"1","v":22.9,"s":"**","t":"w"}]},
     "layer":[
      {"transform":[{"filter":"datum.t==='a'"}],"mark":{"type":"text","dx":7.9,"dy":3,"baseline":"alphabetic","fontSize":9},"encoding":{"text":{"field":"s","type":"nominal"}}},
      {"transform":[{"filter":"datum.t==='w'"}],"mark":{"type":"text","dy":3,"baseline":"alphabetic","fontSize":9},"encoding":{"text":{"field":"s","type":"nominal"}}}]},
    {"data":{"values":[{"n":1}]},"mark":{"type":"rule","color":"#000"},"encoding":{"x":{"datum":"0","type":"nominal"},"x2":{"datum":"5"},"y":{"datum":-4.6,"type":"quantitative"}}}]},
  {"title":{"text":"IL-12","offset":10},"width":52,"height":70,
   "encoding":{"x":{"field":"d","type":"nominal","title":"PF (μM)","scale":{"domain":["0","1","5"],"paddingInner":0.2,"paddingOuter":0.13},"axis":{"labelAngle":0,"labelFontSize":9,"titleFontSize":9.5,"titlePadding":6}},"y":{"field":"v","type":"quantitative","title":"concentration (pg/ml)","scale":{"domain":[0,80],"nice":false},"axis":{"values":[0,20,40,60,80],"labelFontSize":8.5,"titleFontSize":9,"titlePadding":1}}},
   "layer":[
    {"data":{"values":[{"d":"0","v":51,"e":57},{"d":"1","v":45,"e":51},{"d":"5","v":39,"e":45}]},"layer":[
     {"mark":{"type":"bar","stroke":"#000","strokeWidth":1},"encoding":{"fill":{"condition":[{"test":"datum.d==='0'","value":"#000000"},{"test":"datum.d==='1'","value":"#888888"}],"value":"#d4d4d4"}}},
     {"mark":{"type":"rule","color":"#000"},"encoding":{"y2":{"field":"e"}}},
     {"mark":{"type":"tick","orient":"horizontal","color":"#000","size":6,"thickness":1},"encoding":{"y":{"field":"e","type":"quantitative","title":"concentration (pg/ml)"}}}]},
    {"data":{"values":[{"n":1}]},"mark":{"type":"rule","color":"#000"},"encoding":{"x":{"datum":"0","type":"nominal"},"x2":{"datum":"5"},"y":{"datum":-14.8,"type":"quantitative"}}}]},
  {"title":{"text":"IL-23","offset":10},"width":52,"height":70,
   "encoding":{"x":{"field":"d","type":"nominal","title":"PF (μM)","scale":{"domain":["0","1","5"],"paddingInner":0.2,"paddingOuter":0.13},"axis":{"labelAngle":0,"labelFontSize":9,"titleFontSize":9.5,"titlePadding":6}},"y":{"field":"v","type":"quantitative","title":"concentration (pg/ml)","scale":{"domain":[0,120],"nice":false},"axis":{"values":[0,30,60,90,120],"labelFontSize":8.5,"titleFontSize":9,"titlePadding":1}}},
   "layer":[
    {"data":{"values":[{"d":"0","v":77,"e":92},{"d":"1","v":46,"e":61},{"d":"5","v":39,"e":41}]},"layer":[
     {"mark":{"type":"bar","stroke":"#000","strokeWidth":1},"encoding":{"fill":{"condition":[{"test":"datum.d==='0'","value":"#000000"},{"test":"datum.d==='1'","value":"#888888"}],"value":"#d4d4d4"}}},
     {"mark":{"type":"rule","color":"#000"},"encoding":{"y2":{"field":"e"}}},
     {"mark":{"type":"tick","orient":"horizontal","color":"#000","size":6,"thickness":1},"encoding":{"y":{"field":"e","type":"quantitative","title":"concentration (pg/ml)"}}}]},
    {"data":{"values":[
{"d":"0","v":93,"b":1,"o":1},{"d":"0","v":105,"b":1,"o":2},{"d":"1","v":105,"b":1,"o":3},{"d":"1","v":62,"b":1,"o":4},
{"d":"0","v":105,"b":2,"o":1},{"d":"0","v":118,"b":2,"o":2},{"d":"5","v":118,"b":2,"o":3},{"d":"5","v":42,"b":2,"o":4}]},
     "mark":{"type":"line","color":"#000","strokeWidth":1},"encoding":{"detail":{"field":"b","type":"nominal"},"order":{"field":"o","type":"quantitative"}}},
    {"data":{"values":[{"d":"0","v":105,"s":"*","t":"a"},{"d":"1","v":118,"s":"**","t":"w"}]},
     "layer":[
      {"transform":[{"filter":"datum.t==='a'"}],"mark":{"type":"text","dx":8.5,"dy":3,"baseline":"alphabetic","fontSize":9},"encoding":{"text":{"field":"s","type":"nominal"}}},
      {"transform":[{"filter":"datum.t==='w'"}],"mark":{"type":"text","dy":3,"baseline":"alphabetic","fontSize":9},"encoding":{"text":{"field":"s","type":"nominal"}}}]},
    {"data":{"values":[{"n":1}]},"mark":{"type":"rule","color":"#000"},"encoding":{"x":{"datum":"0","type":"nominal"},"x2":{"datum":"5"},"y":{"datum":-22.5,"type":"quantitative"}}}]}
 ]}
 ]}
]}
]
}
